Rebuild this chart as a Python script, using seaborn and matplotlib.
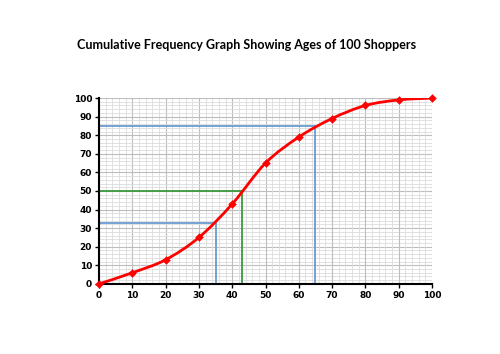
import numpy as np
import matplotlib
matplotlib.use("Agg")
import matplotlib.pyplot as plt
import seaborn as sns
from matplotlib.path import Path
from matplotlib.patches import PathPatch

sns.set_theme(style="white")
plt.rcParams['font.family'] = ['DejaVu Sans']

ages = [0, 10, 20, 30, 40, 50, 60, 70, 80, 90, 100]
cum_freq = [0, 6, 13, 25, 43, 65, 79, 89, 96, 99, 100]

# reading lines: (age, cumulative frequency, colour)
readings = [(35, 33, '#6a9bd1'), (65, 85, '#6a9bd1'), (43, 50, '#3a9a3a')]

fig = plt.figure(figsize=(5, 3.54), dpi=100)
ax = fig.add_axes([0.198, 0.198, 0.666, 0.525])

# grid
for v in np.arange(0, 101, 2):
    major = v % 10 == 0
    c = '#bdbdbd' if major else '#dcdcdc'
    lw = 0.8 if major else 0.6
    ax.axvline(v, color=c, lw=lw, zorder=0)
    ax.axhline(v, color=c, lw=lw, zorder=0)

for x, y, c in readings:
    ax.plot([0, x], [y, y], color=c, lw=1.3, zorder=2)
    ax.plot([x, x], [0, y], color=c, lw=1.3, zorder=2)

# smooth curve through points (Catmull-Rom as cubic Bezier)
pts = np.column_stack([ages, cum_freq]).astype(float)
verts = [pts[0]]
codes = [Path.MOVETO]
n = len(pts)
t = 1 / 6
for i in range(n - 1):
    p0 = pts[max(i - 1, 0)]
    p1 = pts[i]
    p2 = pts[i + 1]
    p3 = pts[min(i + 2, n - 1)]
    c1 = p1 + (p2 - p0) * t
    c2 = p2 - (p3 - p1) * t
    verts += [c1, c2, p2]
    codes += [Path.CURVE4] * 3
ax.add_patch(PathPatch(Path(verts, codes), fill=False, edgecolor='#ff0000', lw=2.0, zorder=3))
sns.scatterplot(x=ages, y=cum_freq, marker='D', s=16, color='#ff0000',
                edgecolor='#ff0000', zorder=4, ax=ax, clip_on=False)

ax.set_xlim(0, 100)
ax.set_ylim(0, 100)
ax.set_xticks(range(0, 101, 10))
ax.set_yticks(range(0, 101, 10))
ax.tick_params(axis='both', length=3, width=1, direction='out', labelsize=6.5,
               bottom=True, left=True, pad=2, color='black', labelcolor='black')
for lab in ax.get_xticklabels() + ax.get_yticklabels():
    lab.set_fontweight('bold')
for s in ['top', 'right']:
    ax.spines[s].set_visible(False)
for s in ['left', 'bottom']:
    ax.spines[s].set_color('black')
    ax.spines[s].set_linewidth(1.5)

fig.text(0.493, 0.872, 'Cumulative Frequency Graph Showing Ages of 100 Shoppers',
         ha='center', va='center', fontsize=9, fontweight='bold', color='black',
         family=['Lato', 'DejaVu Sans'])

fig.savefig('out.png', dpi=100, facecolor='white')
